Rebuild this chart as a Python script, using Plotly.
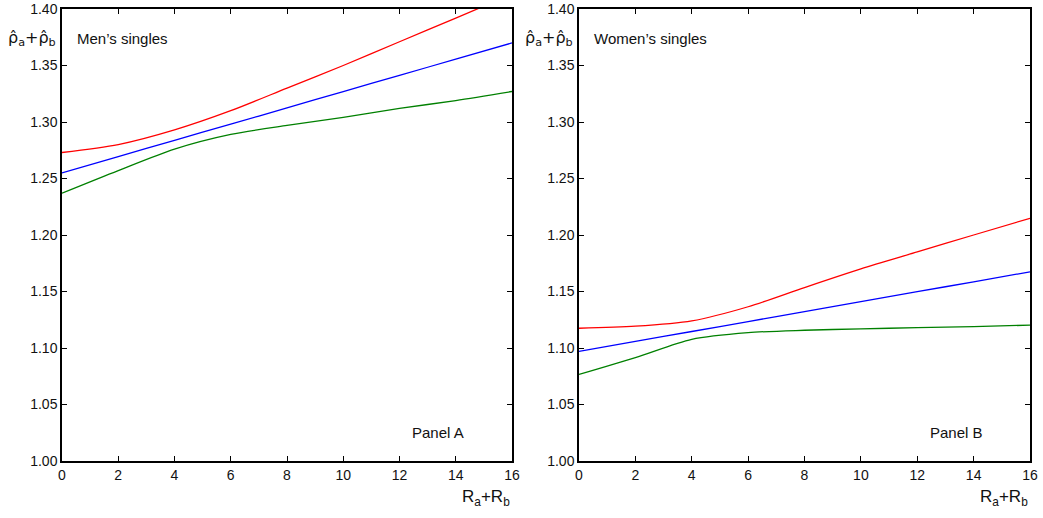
import plotly.graph_objects as go

x_vals = [0, 2, 4, 6, 8, 10, 12, 14, 16]

men_red = [1.273, 1.280, 1.293, 1.310, 1.330, 1.350, 1.371, 1.392, 1.413]
men_blue = [1.255, 1.2694, 1.2838, 1.2981, 1.3125, 1.3269, 1.3413, 1.3556, 1.370]
men_green = [1.237, 1.257, 1.276, 1.289, 1.297, 1.304, 1.312, 1.319, 1.327]

women_red = [1.1175, 1.1193, 1.124, 1.1365, 1.1535, 1.170, 1.185, 1.200, 1.2148]
women_blue = [1.097, 1.1058, 1.1146, 1.1234, 1.1322, 1.141, 1.1498, 1.1586, 1.1674]
women_green = [1.0766, 1.0915, 1.1077, 1.1136, 1.1157, 1.1169, 1.118, 1.119, 1.1202]

panel_titles = ["Men\u2019s singles", "Women\u2019s singles"]
panel_labels = ["Panel A", "Panel B"]
y_ticks = [1.00, 1.05, 1.10, 1.15, 1.20, 1.25, 1.30, 1.35, 1.40]
x_ticks = [0, 2, 4, 6, 8, 10, 12, 14, 16]

colors = {"red": "#ff0000", "blue": "#0000ff", "green": "#008000"}
FONT = "Liberation Sans, Arial, sans-serif"

fig = go.Figure()

series = [
    ("x", "y", men_red, "red"), ("x", "y", men_blue, "blue"), ("x", "y", men_green, "green"),
    ("x2", "y2", women_red, "red"), ("x2", "y2", women_blue, "blue"), ("x2", "y2", women_green, "green"),
]
for xa, ya, vals, c in series:
    fig.add_trace(go.Scatter(x=x_vals, y=vals, xaxis=xa, yaxis=ya, mode="lines",
                             line=dict(color=colors[c], width=1.3, shape="spline", smoothing=0.8),
                             showlegend=False, hoverinfo="skip"))

axis_common = dict(showline=True, linecolor="black", linewidth=1.5, mirror="ticks",
                   ticks="inside", ticklen=5, tickwidth=1, tickcolor="black",
                   showgrid=False, zeroline=False, automargin=False,
                   tickfont=dict(family=FONT, size=14, color="#111"))

L = 62; R = 13; FW = 1043
W = FW - L - R
dom1 = [0, (512 - L) / W]
dom2 = [(579 - L) / W, 1]

fig.update_layout(
    template="none",
    width=FW, height=518,
    margin=dict(l=L, r=R, t=9, b=57, autoexpand=False),
    paper_bgcolor="white", plot_bgcolor="white",
    xaxis=dict(domain=dom1, range=[0, 16], tickvals=x_ticks, anchor="y", **axis_common),
    yaxis=dict(domain=[0, 1], range=[1.0, 1.4], tickvals=y_ticks, tickformat=".2f", anchor="x", **axis_common),
    xaxis2=dict(domain=dom2, range=[0, 16], tickvals=x_ticks, anchor="y2", **axis_common),
    yaxis2=dict(domain=[0, 1], range=[1.0, 1.4], tickvals=y_ticks, tickformat=".2f", anchor="x2", **axis_common),
)

anns = []
for i, (title, plabel) in enumerate(zip(panel_titles, panel_labels)):
    xs = "x domain" if i == 0 else "x2 domain"
    ys = "y domain" if i == 0 else "y2 domain"
    anns.append(dict(x=0.029, y=0.935, xref=xs, yref=ys, text=title, showarrow=False,
                     xanchor="left", yanchor="middle", font=dict(family=FONT, size=15, color="#111")))
    anns.append(dict(x=0.836, y=0.064, xref=xs, yref=ys, text=plabel, showarrow=False,
                     xanchor="center", yanchor="middle", font=dict(family=FONT, size=15, color="#111")))
    anns.append(dict(x=1.0, y=-0.082, xref=xs, yref=ys, text="R<sub>a</sub>+R<sub>b</sub>", showarrow=False,
                     xanchor="right", yanchor="middle", font=dict(family=FONT, size=17, color="#111")))
    anns.append(dict(x=-0.008, y=0.935, xref=xs, yref=ys, text="\u03c1\u0302<sub>a</sub>+\u03c1\u0302<sub>b</sub>",
                     showarrow=False, xanchor="right", yanchor="middle",
                     font=dict(family="DejaVu Sans, sans-serif", size=16, color="#111")))
fig.update_layout(annotations=anns)

fig.write_html("out.html", config={"displayModeBar": False},
               post_script="document.body.style.margin='0';")
